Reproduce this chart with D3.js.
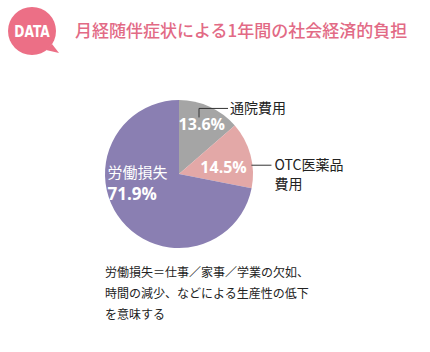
<!DOCTYPE html>
<html>
<head>
<meta charset="utf-8">
<script src="https://cdn.jsdelivr.net/npm/d3@7/dist/d3.min.js"></script>
<style>
  body { margin: 0; background: #fff; }
  svg { display: block; font-family: "Noto Sans CJK JP", "Noto Sans", sans-serif; }
</style>
</head>
<body>
<svg id="chart"></svg>
<script>
// データ
const categories = ["通院費用", "OTC医薬品費用", "労働損失"];
const values = [13.6, 14.5, 71.9];
const colors = ["#a5a5a5", "#e3a8a7", "#8a7fb2"];
const title = "月経随伴症状による1年間の社会経済的負担";
const noteLines = [
  "労働損失＝仕事／家事／学業の欠如、",
  "時間の減少、などによる生産性の低下",
  "を意味する"
];

const width = 430, height = 352;
const cx = 179, cy = 174, radius = 74;

const svg = d3.select("#chart").attr("width", width).attr("height", height);

// DATA バッジ
const badge = svg.append("g").attr("transform", "translate(32,31)");
badge.append("path")
  .attr("d", "M 20 13 L 27 22 L 14 19 Z")
  .attr("fill", "#ec6f86");
badge.append("circle").attr("r", 24).attr("fill", "#ec6f86");
badge.append("text")
  .attr("text-anchor", "middle")
  .attr("dy", "0.36em")
  .attr("fill", "#fff")
  .attr("font-family", "'Liberation Sans Narrow', 'DejaVu Sans Condensed', sans-serif")
  .attr("font-weight", "bold")
  .attr("font-size", 16)
  .attr("transform", "scale(0.85,1)")
  .text("DATA");

// タイトル
svg.append("text")
  .attr("x", 75).attr("y", 37)
  .attr("fill", "#e26a85")
  .attr("font-size", 17)
  .attr("font-weight", 500)
  .text(title);

// 円グラフ
const pie = d3.pie().sort(null).value(d => d)(values);
const arc = d3.arc().innerRadius(0).outerRadius(radius);

const g = svg.append("g").attr("transform", `translate(${cx},${cy})`);

g.selectAll("path.slice")
  .data(pie)
  .enter()
  .append("path")
  .attr("class", "slice")
  .attr("d", arc)
  .attr("fill", (d, i) => colors[i]);

// 角度と半径から座標を得る
const pt = (a, r) => [r * Math.sin(a), -r * Math.cos(a)];
const mid = d => (d.startAngle + d.endAngle) / 2;

// パーセント表示
const pctStyle = sel => sel
  .attr("fill", "#fff")
  .attr("font-family", "'Open Sans', 'Noto Sans', sans-serif")
  .attr("font-weight", "bold")
  .attr("font-size", 16)
  .attr("text-anchor", "middle")
  .attr("dy", "0.35em");

const p0 = pt(mid(pie[0]), 55);
g.append("text").call(pctStyle)
  .attr("x", p0[0]).attr("y", p0[1])
  .text(values[0] + "%");

const p1 = pt(mid(pie[1]) + 0.12, 45);
g.append("text").call(pctStyle)
  .attr("x", p1[0]).attr("y", p1[1])
  .text(values[1] + "%");

const p2 = pt(mid(pie[2]) - 0.02, 48);
g.append("text")
  .attr("x", p2[0] - 35).attr("y", p2[1] - 32)
  .attr("fill", "#fff")
  .attr("font-size", 15)
  .attr("dy", "0.35em")
  .text(categories[2]);
g.append("text").call(pctStyle)
  .attr("text-anchor", "start")
  .attr("font-size", 17)
  .attr("x", p2[0] - 35).attr("y", p2[1] - 11)
  .text(values[2] + "%");

// 引き出し線とラベル
const a0 = pt(pie[0].startAngle + 0.34, 60);
const leader0 = [a0, [a0[0], a0[1] - 9], [a0[0] + 29, a0[1] - 9]];
g.append("path")
  .attr("d", d3.line()(leader0))
  .attr("fill", "none")
  .attr("stroke", "#333")
  .attr("stroke-width", 1);
g.append("text")
  .attr("x", leader0[2][0] + 2).attr("y", leader0[2][1])
  .attr("dy", "0.35em")
  .attr("font-size", 14)
  .attr("fill", "#222")
  .text(categories[0]);

const a1 = pt(mid(pie[1]) + 0.14, radius - 1);
const leader1 = [a1, [a1[0] + 20, a1[1]]];
g.append("path")
  .attr("d", d3.line()(leader1))
  .attr("fill", "none")
  .attr("stroke", "#333")
  .attr("stroke-width", 1);
const lab1 = g.append("text")
  .attr("x", leader1[1][0] + 3).attr("y", leader1[1][1])
  .attr("dy", "0.35em")
  .attr("font-size", 14)
  .attr("fill", "#222");
lab1.append("tspan").text("OTC医薬品");
lab1.append("tspan")
  .attr("x", leader1[1][0] + 3).attr("dy", "1.35em")
  .text("費用");

// 注記
svg.append("g")
  .selectAll("text")
  .data(noteLines)
  .enter()
  .append("text")
  .attr("x", 105)
  .attr("y", (d, i) => 277 + i * 21)
  .attr("font-size", 12)
  .attr("fill", "#222")
  .text(d => d);
</script>
</body>
</html>
